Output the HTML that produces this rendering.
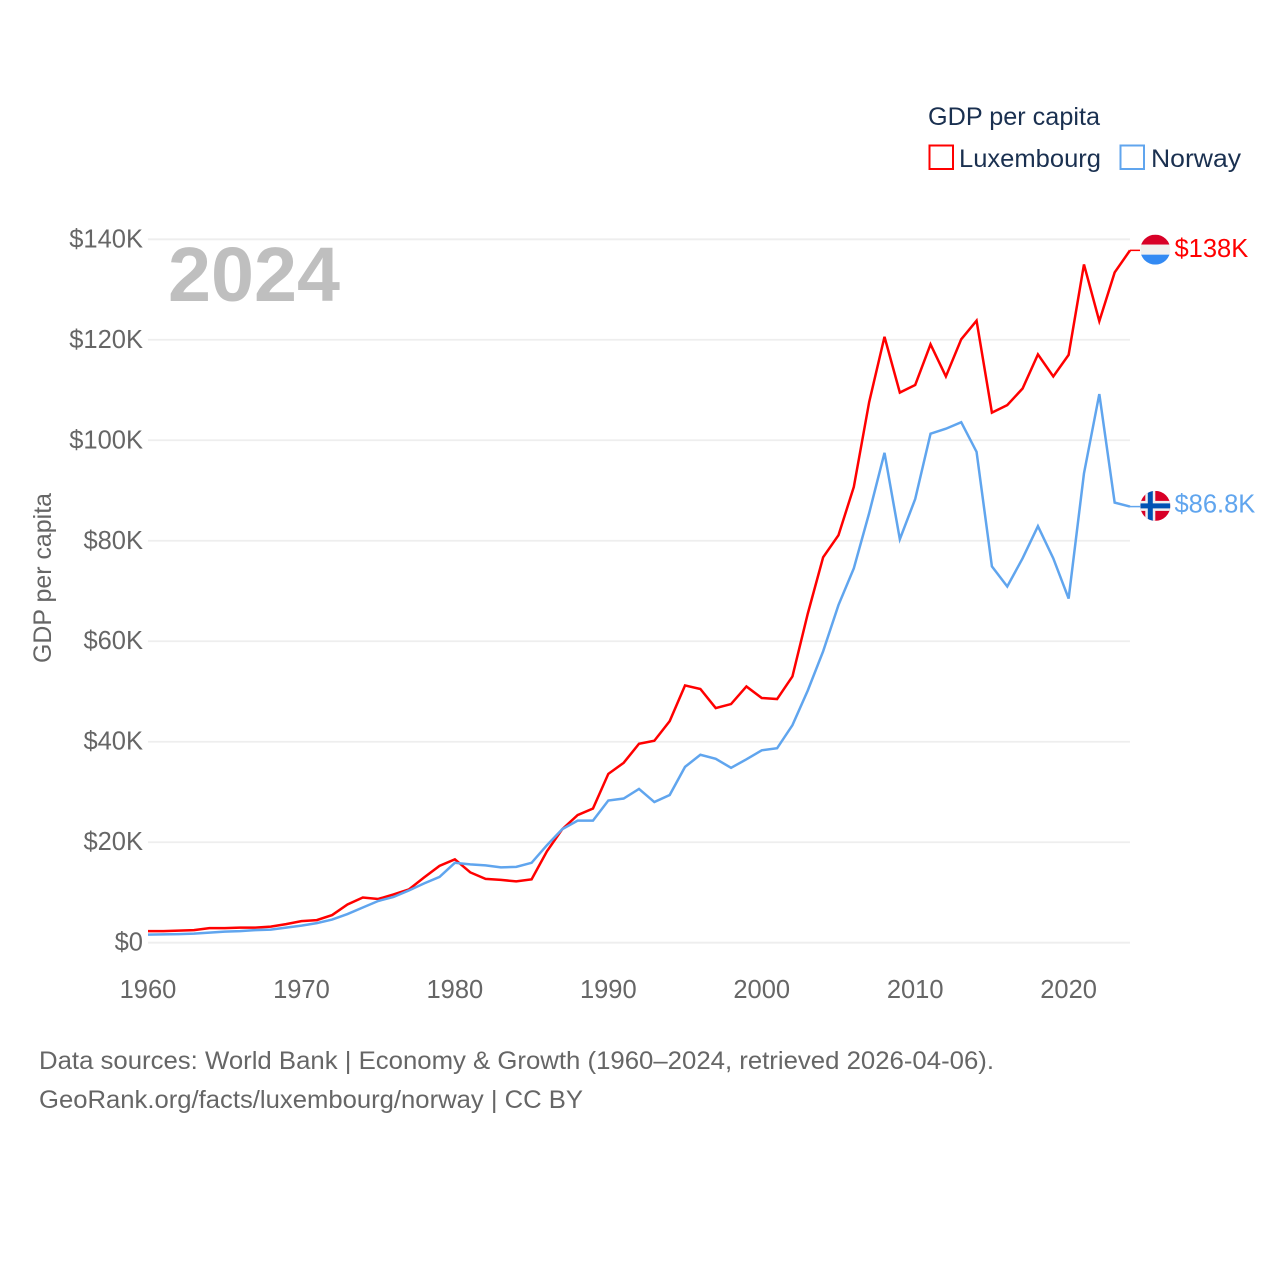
<!DOCTYPE html>
<html lang="en">
<head>
<meta charset="utf-8">
<title>GDP per capita: Luxembourg and Norway</title>
<style>
html,body{margin:0;padding:0;background:#fff;}
svg{display:block;font-family:"Liberation Sans",sans-serif;}
</style>
</head>
<body>
<svg id="chart" xmlns="http://www.w3.org/2000/svg" width="1280" height="1280" viewBox="0 0 1280 1280">
  <rect x="0" y="0" width="1280" height="1280" fill="#ffffff"/>
  <g id="grid"></g>
  <g id="ylabels"></g>
  <g id="xlabels"></g>
  <text x="168" y="301" font-size="77" font-weight="700" fill="#bfbfbf" textLength="172" lengthAdjust="spacingAndGlyphs">2024</text>
  <text transform="translate(51,663) rotate(-90)" font-size="25" fill="#666666" textLength="170" lengthAdjust="spacingAndGlyphs">GDP per capita</text>
  <g id="series"></g>
  <g id="endpoints"></g>
  <g>
    <text x="928" y="125" font-size="25" fill="#1a3050" textLength="172" lengthAdjust="spacingAndGlyphs">GDP per capita</text>
    <rect x="929.5" y="145.5" width="23.5" height="23.5" fill="none" stroke="#ff0000" stroke-width="2"/>
    <text x="959" y="167" font-size="25" fill="#1a3050" textLength="142" lengthAdjust="spacingAndGlyphs">Luxembourg</text>
    <rect x="1120.5" y="145.5" width="23.5" height="23.5" fill="none" stroke="#60a5ee" stroke-width="2"/>
    <text x="1151" y="167" font-size="25" fill="#1a3050" textLength="90" lengthAdjust="spacingAndGlyphs">Norway</text>
  </g>
  <g>
    <text x="39" y="1069" font-size="25" fill="#666666" textLength="955" lengthAdjust="spacingAndGlyphs">Data sources: World Bank | Economy &amp; Growth (1960–2024, retrieved 2026-04-06).</text>
    <text x="39" y="1108" font-size="25" fill="#666666" textLength="544" lengthAdjust="spacingAndGlyphs">GeoRank.org/facts/luxembourg/norway | CC BY</text>
  </g>
</svg>
<script>
const years = [1960,1961,1962,1963,1964,1965,1966,1967,1968,1969,1970,1971,1972,1973,1974,1975,1976,1977,1978,1979,1980,1981,1982,1983,1984,1985,1986,1987,1988,1989,1990,1991,1992,1993,1994,1995,1996,1997,1998,1999,2000,2001,2002,2003,2004,2005,2006,2007,2008,2009,2010,2011,2012,2013,2014,2015,2016,2017,2018,2019,2020,2021,2022,2023,2024];
const luxembourgValues = [2.3,2.3,2.4,2.5,2.9,2.9,3.0,3.0,3.2,3.7,4.3,4.5,5.5,7.6,9.0,8.7,9.6,10.6,13.0,15.3,16.6,14.0,12.7,12.5,12.2,12.6,18.2,22.6,25.4,26.7,33.6,35.8,39.6,40.2,44.1,51.2,50.5,46.7,47.5,51.0,48.7,48.5,53.0,65.5,76.7,81.1,90.7,107.6,120.6,109.5,111.0,119.1,112.7,120.1,123.8,105.5,107.0,110.3,117.1,112.7,117.0,135.0,123.7,133.4,137.8];
const norwayValues = [1.6,1.65,1.7,1.8,2.0,2.2,2.3,2.5,2.6,3.0,3.4,3.9,4.6,5.7,7.0,8.3,9.1,10.4,11.8,13.1,15.9,15.6,15.4,15.0,15.1,15.9,19.4,22.6,24.3,24.3,28.3,28.7,30.6,28.0,29.4,35.0,37.4,36.6,34.8,36.5,38.3,38.7,43.3,50.2,58.0,67.2,74.5,85.5,97.5,80.3,88.3,101.3,102.3,103.6,97.7,74.9,70.9,76.5,82.9,76.5,68.5,93.4,109.2,87.6,86.8];
const yTickValues = [0,20,40,60,80,100,120,140];
const yTickLabels = ["$0","$20K","$40K","$60K","$80K","$100K","$120K","$140K"];
const xTickValues = [1960,1970,1980,1990,2000,2010,2020];
const xTickLabels = ["1960","1970","1980","1990","2000","2010","2020"];

const NS = "http://www.w3.org/2000/svg";
const xScale = function (year) { return 148 + (year - 1960) * (1130 - 148) / 64; };
const yScale = function (v) { return 942.7 - v * (942.7 - 239.3) / 140; };

function make(tag, parent) {
  const el = document.createElementNS(NS, tag);
  parent.appendChild(el);
  return el;
}
function setAll(el, attrs) {
  Object.keys(attrs).forEach(function (k) { el.setAttribute(k, attrs[k]); });
}

const grid = document.getElementById("grid");
const ylabels = document.getElementById("ylabels");
const xlabels = document.getElementById("xlabels");
const seriesGroup = document.getElementById("series");
const endpoints = document.getElementById("endpoints");

yTickValues.forEach(function (v, i) {
  const line = make("line", grid);
  
  
  setAll(line, { x1: 148, x2: 1130, y1: yScale(v), y2: yScale(v), stroke: "#eeeeee", "stroke-width": 1.8 });
  const label = make("text", ylabels);
  
  
  setAll(label, { x: 143, y: yScale(v) + 8, "text-anchor": "end", "font-size": 25.5, fill: "#666666" });
  label.textContent = yTickLabels[i];
});

xTickValues.forEach(function (v, i) {
  const label = make("text", xlabels);
  
  
  setAll(label, { x: xScale(v), y: 998, "text-anchor": "middle", "font-size": 25.5, fill: "#666666" });
  label.textContent = xTickLabels[i];
});

function pathFor(values) {
  return values.map(function (v, i) {
    return (i ? "L" : "M") + xScale(years[i]).toFixed(2) + " " + yScale(v).toFixed(2);
  }).join("");
}

const lastIdx = years.length - 1;

const luxLine = make("path", seriesGroup);


setAll(luxLine, { d: pathFor(luxembourgValues), fill: "none", stroke: "#ff0000", "stroke-width": 2.5, "stroke-linejoin": "miter" });

const norLine = make("path", seriesGroup);


setAll(norLine, { d: pathFor(norwayValues), fill: "none", stroke: "#60a5ee", "stroke-width": 2.5, "stroke-linejoin": "miter" });

/* Luxembourg end marker */
const luxY = yScale(luxembourgValues[lastIdx]);
const luxX = xScale(years[lastIdx]);
const luxLead = make("line", endpoints);


setAll(luxLead, { x1: luxX, x2: luxX + 10, y1: luxY, y2: luxY, stroke: "#ff0000", "stroke-width": 1.5 });

const luxFlag = make("g", endpoints);


luxFlag.setAttribute("transform", "translate(" + (luxX + 25.3) + "," + (luxY - 0.7) + ")");
const luxClip = make("clipPath", luxFlag);
luxClip.setAttribute("id", "clip-lux");
const luxClipC = make("circle", luxClip);
setAll(luxClipC, { r: 15 });
const luxBands = make("g", luxFlag);
luxBands.setAttribute("clip-path", "url(#clip-lux)");
const luxRed = make("rect", luxBands);
setAll(luxRed, { x: -15, y: -15, width: 30, height: 10, fill: "#d80027" });
const luxWhite = make("rect", luxBands);
setAll(luxWhite, { x: -15, y: -5, width: 30, height: 10, fill: "#f0f0f0" });
const luxBlue = make("rect", luxBands);
setAll(luxBlue, { x: -15, y: 5, width: 30, height: 10, fill: "#338af3" });

const luxValue = make("text", endpoints);


setAll(luxValue, { x: 1174.5, y: luxY + 6.5, "font-size": 25.5, fill: "#ff0000" });
luxValue.textContent = "$138K";

/* Norway end marker */
const norY = yScale(norwayValues[lastIdx]);
const norX = xScale(years[lastIdx]);
const norLead = make("line", endpoints);


setAll(norLead, { x1: norX, x2: norX + 10, y1: norY, y2: norY, stroke: "#60a5ee", "stroke-width": 1.5 });

const norFlag = make("g", endpoints);


norFlag.setAttribute("transform", "translate(" + (norX + 25.3) + "," + (norY - 0.7) + ")");
const norClip = make("clipPath", norFlag);
norClip.setAttribute("id", "clip-nor");
const norClipC = make("circle", norClip);
setAll(norClipC, { r: 15 });
const norBands = make("g", norFlag);
norBands.setAttribute("clip-path", "url(#clip-nor)");
const norBase = make("rect", norBands);
setAll(norBase, { x: -15, y: -15, width: 30, height: 30, fill: "#d80027" });
const norWhiteV = make("rect", norBands);
setAll(norWhiteV, { x: -10, y: -15, width: 10, height: 30, fill: "#f0f0f0" });
const norWhiteH = make("rect", norBands);
setAll(norWhiteH, { x: -15, y: -5, width: 30, height: 10, fill: "#f0f0f0" });
const norBlueV = make("rect", norBands);
setAll(norBlueV, { x: -7.5, y: -15, width: 5, height: 30, fill: "#0052b4" });
const norBlueH = make("rect", norBands);
setAll(norBlueH, { x: -15, y: -2.5, width: 30, height: 5, fill: "#0052b4" });

const norValue = make("text", endpoints);


setAll(norValue, { x: 1174.5, y: norY + 6, "font-size": 25.5, fill: "#60a5ee" });
norValue.textContent = "$86.8K";
</script>
</body>
</html>
